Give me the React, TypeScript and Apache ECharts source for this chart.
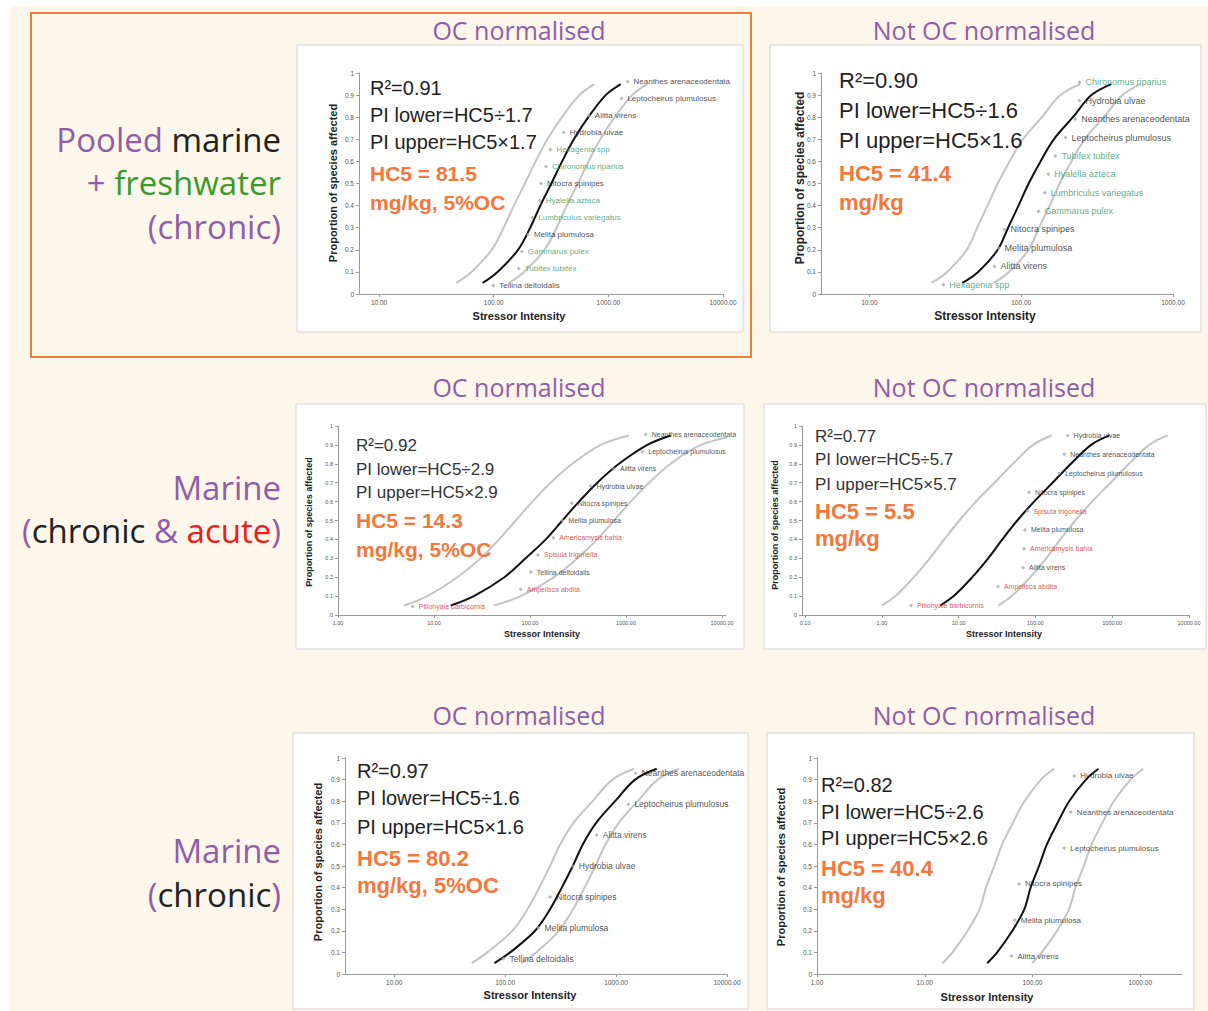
import React, { useEffect, useRef } from "react";
import * as echarts from "echarts";

// ---------- DATA ----------
// cumulative probability levels at which the fitted curves were read
const P_LEVELS = [0.05, 0.1, 0.2, 0.3, 0.4, 0.5, 0.6, 0.7, 0.8, 0.9, 0.95];

// Panel 1: Pooled marine + freshwater (chronic), OC normalised
const P1_FIT = [80, 108, 163, 208, 255, 318, 395, 500, 668, 948, 1282];
const P1_LOWER = [47, 64, 96, 122, 150, 187, 232, 294, 393, 558, 754];
const P1_UPPER = [136, 184, 277, 354, 434, 541, 672, 850, 1136, 1612, 2179];
const P1_SPECIES = ["Neanthes arenaceodentata", "Leptocheirus plumulosus", "Alitta virens", "Hydrobia ulvae", "Hexagenia spp", "Chironomus riparius", "Nitocra spinipes", "Hyalella azteca", "Lumbriculus variegatus", "Melita plumulosa", "Gammarus pulex", "Tubifex tubifex", "Tellina deltoidalis"];
const P1_SP_X = [1469, 1300, 676, 408, 312, 286, 258, 252, 217, 199, 176, 165, 99];
const P1_SP_Y = [0.962, 0.885, 0.808, 0.731, 0.654, 0.577, 0.5, 0.423, 0.346, 0.269, 0.192, 0.115, 0.038];
const P1_SP_TYPE = ["m", "m", "m", "m", "f", "f", "m", "f", "f", "m", "f", "f", "m"];
const P1_X_TICKS = [10, 100, 1000, 10000];

// Panel 2: Pooled marine + freshwater (chronic), not OC normalised
const P2_FIT = [41, 52, 70, 82, 96, 112, 134, 164, 219, 290, 392];
const P2_LOWER = [25.6, 32.5, 43.8, 51.3, 60, 70, 83.8, 102.5, 137, 181, 245];
const P2_UPPER = [65.6, 83.2, 112, 131, 154, 179, 214, 262, 350, 464, 610];
const P2_SPECIES = ["Chironomus riparius", "Hydrobia ulvae", "Neanthes arenaceodentata", "Leptocheirus plumulosus", "Tubifex tubifex", "Hyalella azteca", "Lumbriculus variegatus", "Gammarus pulex", "Nitocra spinipes", "Melita plumulosa", "Alitta virens", "Hexagenia spp"];
const P2_SP_X = [242, 242, 227, 196, 168, 151, 143, 130, 77.6, 71, 66.7, 30.7];
const P2_SP_Y = [0.958, 0.875, 0.792, 0.708, 0.625, 0.542, 0.458, 0.375, 0.292, 0.208, 0.125, 0.042];
const P2_SP_TYPE = ["f", "m", "m", "m", "f", "f", "f", "f", "m", "m", "m", "f"];
const P2_X_TICKS = [10, 100, 1000];

// Panel 3: Marine (chronic & acute), OC normalised
const P3_FIT = [14.9, 26, 54, 90, 146, 217, 324, 502, 845, 1667, 2917];
const P3_LOWER = [4.87, 8.5, 17.5, 30.6, 47.5, 71, 106, 164, 276, 545, 1074];
const P3_UPPER = [42, 80, 178, 311, 502, 750, 1119, 1738, 2917, 6000, 14454];
const P3_SPECIES = ["Neanthes arenaceodentata", "Leptocheirus plumulosus", "Alitta virens", "Hydrobia ulvae", "Nitocra spinipes", "Melita plumulosa", "Americamysis bahia", "Spisula trigonella", "Tellina deltoidalis", "Ampelisca abdita", "Ptilohyale barbicornis"];
const P3_SP_X = [1603, 1479, 750, 428, 272, 217, 175, 121, 102, 80, 6.0];
const P3_SP_Y = [0.955, 0.864, 0.773, 0.682, 0.591, 0.5, 0.409, 0.318, 0.227, 0.136, 0.045];
const P3_SP_TYPE = ["m", "m", "m", "m", "m", "m", "a", "a", "m", "a", "a"];
const P3_X_TICKS = [1, 10, 100, 1000, 10000];

// Panel 4: Marine (chronic & acute), not OC normalised
const P4_FIT = [5.75, 8.6, 15, 24.2, 37, 58, 96, 167, 290, 531, 923];
const P4_LOWER = [1.0, 1.5, 2.6, 4.2, 6.5, 10.2, 16.8, 29.3, 50.9, 93, 162];
const P4_UPPER = [32.8, 49, 85.5, 138, 211, 331, 547, 952, 1653, 3027, 5261];
const P4_SPECIES = ["Hydrobia ulvae", "Neanthes arenaceodentata", "Leptocheirus plumulosus", "Nitocra spinipes", "Spisula trigonella", "Melita plumulosa", "Americamysis bahia", "Alitta virens", "Ampelisca abdita", "Ptilohyale barbicornis"];
const P4_SP_X = [262, 237, 204, 82.6, 78.5, 73, 71, 69, 32.4, 2.4];
const P4_SP_Y = [0.95, 0.85, 0.75, 0.65, 0.55, 0.45, 0.35, 0.25, 0.15, 0.05];
const P4_SP_TYPE = ["m", "m", "m", "m", "a", "m", "a", "m", "a", "a"];
const P4_X_TICKS = [0.1, 1, 10, 100, 1000, 10000];

// Panel 5: Marine (chronic), OC normalised
const P5_FIT = [80, 111, 186, 254, 324, 407, 501, 661, 980, 1483, 2323];
const P5_LOWER = [50, 69, 116, 159, 203, 254, 313, 413, 613, 927, 1452];
const P5_UPPER = [140, 190, 305, 410, 520, 651, 802, 1058, 1568, 2373, 3717];
const P5_SPECIES = ["Neanthes arenaceodentata", "Leptocheirus plumulosus", "Alitta virens", "Hydrobia ulvae", "Nitocra spinipes", "Melita plumulosa", "Tellina deltoidalis"];
const P5_SP_X = [1503, 1291, 670, 407, 254, 200, 96.6];
const P5_SP_Y = [0.929, 0.786, 0.643, 0.5, 0.357, 0.214, 0.071];
const P5_SP_TYPE = ["m", "m", "m", "m", "m", "m", "m"];
const P5_X_TICKS = [10, 100, 1000, 10000];

// Panel 6: Marine (chronic), not OC normalised
const P6_FIT = [38, 47, 65, 84, 96, 115, 136, 171, 219, 313, 410];
const P6_LOWER = [14.6, 18.1, 25, 32.3, 37, 44.2, 52.3, 65.8, 84.2, 120, 158];
const P6_UPPER = [99, 122, 169, 218, 250, 299, 354, 445, 569, 814, 1066];
const P6_SPECIES = ["Hydrobia ulvae", "Neanthes arenaceodentata", "Leptocheirus plumulosus", "Nitocra spinipes", "Melita plumulosa", "Alitta virens"];
const P6_SP_X = [244, 227, 197, 75, 68.5, 63.8];
const P6_SP_Y = [0.917, 0.75, 0.583, 0.417, 0.25, 0.083];
const P6_SP_TYPE = ["m", "m", "m", "m", "m", "m"];
const P6_X_TICKS = [1, 10, 100, 1000];

// Annotation texts
const R2 = ["0.91", "0.90", "0.92", "0.77", "0.97", "0.82"];
const PI = ["1.7", "1.6", "2.9", "5.7", "1.6", "2.6"];
const HC5 = ["81.5", "41.4", "14.3", "5.5", "80.2", "40.4"];
const UNITS = ["mg/kg, 5%OC", "mg/kg", "mg/kg, 5%OC", "mg/kg", "mg/kg, 5%OC", "mg/kg"];

// ---------- STYLE / LAYOUT ----------
const PURPLE = "#8f5ea8";
const ORANGE = "#f4773b";
const TYPE_COLOR: Record<string, string> = { m: "#222222", f: "#2e9a66", a: "#d42a2a" };
const SANS = "'Liberation Sans', Arial, sans-serif";
const TITLE_FONT = "'Open Sans', 'Noto Sans', sans-serif";

const PANELS = [
  { grid: { left: 359, top: 73, width: 364, height: 221 }, xMin: 6.68, xMax: 10000, ticks: P1_X_TICKS, fit: P1_FIT, lower: P1_LOWER, upper: P1_UPPER, names: P1_SPECIES, sx: P1_SP_X, sy: P1_SP_Y, st: P1_SP_TYPE, tickFont: 6.5, spFont: 8,
    box: [297, 45, 446, 287], ann: { x: 370, ys: [88, 115, 142, 173, 202], f: 20, hf: 21 }, yTitle: [333, 183, 11], xTitle: [519, 316, 11] },
  { grid: { left: 821, top: 73, width: 352, height: 221 }, xMin: 4.8, xMax: 1000, ticks: P2_X_TICKS, fit: P2_FIT, lower: P2_LOWER, upper: P2_UPPER, names: P2_SPECIES, sx: P2_SP_X, sy: P2_SP_Y, st: P2_SP_TYPE, tickFont: 6.5, spFont: 9,
    box: [770, 45, 431, 287], ann: { x: 839, ys: [80, 110, 140, 173, 202], f: 22, hf: 22 }, yTitle: [800, 178, 12], xTitle: [985, 316, 12] },
  { grid: { left: 338, top: 426, width: 388, height: 189 }, xMin: 1, xMax: 11000, ticks: P3_X_TICKS, fit: P3_FIT, lower: P3_LOWER, upper: P3_UPPER, names: P3_SPECIES, sx: P3_SP_X, sy: P3_SP_Y, st: P3_SP_TYPE, tickFont: 5.5, spFont: 7,
    box: [296, 404, 448, 245], ann: { x: 356, ys: [445, 469, 492, 520, 549], f: 17, hf: 21 }, yTitle: [309, 522, 9], xTitle: [542, 634, 9] },
  { grid: { left: 802, top: 426, width: 387, height: 189 }, xMin: 0.091, xMax: 10000, ticks: P4_X_TICKS, fit: P4_FIT, lower: P4_LOWER, upper: P4_UPPER, names: P4_SPECIES, sx: P4_SP_X, sy: P4_SP_Y, st: P4_SP_TYPE, tickFont: 5.5, spFont: 7,
    box: [764, 404, 442, 245], ann: { x: 815, ys: [436, 459, 484, 511, 538], f: 17, hf: 22 }, yTitle: [775, 525, 9], xTitle: [1004, 634, 9] },
  { grid: { left: 345, top: 758, width: 382, height: 216 }, xMin: 3.6, xMax: 10000, ticks: P5_X_TICKS, fit: P5_FIT, lower: P5_LOWER, upper: P5_UPPER, names: P5_SPECIES, sx: P5_SP_X, sy: P5_SP_Y, st: P5_SP_TYPE, tickFont: 6.5, spFont: 8.5,
    box: [293, 733, 455, 276], ann: { x: 357, ys: [771, 798, 827, 858, 885], f: 20, hf: 22 }, yTitle: [318, 862, 11], xTitle: [530, 995, 11] },
  { grid: { left: 817, top: 758, width: 365, height: 216 }, xMin: 1, xMax: 2440, ticks: P6_X_TICKS, fit: P6_FIT, lower: P6_LOWER, upper: P6_UPPER, names: P6_SPECIES, sx: P6_SP_X, sy: P6_SP_Y, st: P6_SP_TYPE, tickFont: 6.5, spFont: 8,
    box: [767, 733, 427, 276], ann: { x: 821, ys: [785, 812, 838, 868, 895], f: 20, hf: 22 }, yTitle: [781, 867, 11], xTitle: [987, 997, 11] },
];

function txt(x: number, y: number, text: string, style: any, extra: any = {}) {
  const align = style.align || "left";
  const valign = style.verticalAlign || "middle";
  return {
    type: "text", x, y, z: 100, ...extra,
    style: { text, fontFamily: SANS, fill: "#222", ...style, align, textAlign: align, verticalAlign: valign, textVerticalAlign: valign },
  };
}

function buildOption() {
  const grids: any[] = [];
  const xAxes: any[] = [];
  const yAxes: any[] = [];
  const series: any[] = [];
  const graphics: any[] = [];

  // background
  graphics.push({ type: "rect", z: -20, shape: { x: 10, y: 6, width: 1198, height: 1005 }, style: { fill: "#fdf6ea" } });
  graphics.push({ type: "rect", z: -15, shape: { x: 31, y: 13, width: 720, height: 344 }, style: { fill: "none", stroke: "#ec7f3a", lineWidth: 2 } });

  // column titles
  const titleRows = [30, 387, 715];
  titleRows.forEach((ty) => {
    graphics.push(txt(519, ty, "OC normalised", { fontFamily: TITLE_FONT, fontSize: 25, fill: PURPLE, align: "center" }));
    graphics.push(txt(984, ty, "Not OC normalised", { fontFamily: TITLE_FONT, fontSize: 25, fill: PURPLE, align: "center" }));
  });

  // row labels
  const LS = 33;
  const rich = {
    p: { fill: PURPLE, color: PURPLE, fontFamily: TITLE_FONT, fontSize: LS },
    k: { fill: "#222", color: "#222", fontFamily: TITLE_FONT, fontSize: LS },
    g: { fill: "#3a9a2a", color: "#3a9a2a", fontFamily: TITLE_FONT, fontSize: LS },
    r: { fill: "#ee1c1c", color: "#ee1c1c", fontFamily: TITLE_FONT, fontSize: LS },
  };
  const rowLabel = (y: number, t: string) =>
    graphics.push(txt(281, y, t, { fontFamily: TITLE_FONT, fontSize: LS, align: "right", rich }));
  rowLabel(139, "{p|Pooled} {k|marine}");
  rowLabel(182, "{p|+} {g|freshwater}");
  rowLabel(226, "{p|(chronic)}");
  rowLabel(487, "{p|Marine}");
  rowLabel(530, "{p|(}{k|chronic} {p|&} {r|acute}{p|)}");
  rowLabel(850, "{p|Marine}");
  rowLabel(894, "{p|(}{k|chronic}{p|)}");

  PANELS.forEach((pn, i) => {
    const [bx, by, bw, bh] = pn.box;
    graphics.push({ type: "rect", z: -10, shape: { x: bx, y: by, width: bw, height: bh }, style: { fill: "#ffffff", stroke: "#d4d4d4", lineWidth: 1 } });

    grids.push({ ...pn.grid, containLabel: false });
    xAxes.push({
      gridIndex: i, type: "log", logBase: 10, min: pn.xMin, max: pn.xMax,
      axisLine: { show: true, onZero: false, lineStyle: { color: "#9a9a9a", width: 1 } },
      axisTick: { show: true, customValues: pn.ticks, length: 3, lineStyle: { color: "#9a9a9a" } },
      minorTick: { show: false },
      axisLabel: { show: true, customValues: pn.ticks, formatter: (v: number) => Number(v).toFixed(2), fontSize: pn.tickFont, color: "#555", fontFamily: SANS, margin: 5 },
      splitLine: { show: false },
      minorSplitLine: { show: false },
    });
    yAxes.push({
      gridIndex: i, type: "value", min: 0, max: 1, interval: 0.1,
      axisLine: { show: true, lineStyle: { color: "#9a9a9a", width: 1 } },
      axisTick: { show: true, length: 3, lineStyle: { color: "#9a9a9a" } },
      axisLabel: { show: true, formatter: (v: number) => String(Number(v.toFixed(1))), fontSize: pn.tickFont, color: "#555", fontFamily: SANS, margin: 5 },
      splitLine: { show: false },
    });

    const line = (vals: number[], color: string, z: number) => ({
      type: "line", xAxisIndex: i, yAxisIndex: i, smooth: 0.35, symbol: "none", clip: false, z,
      lineStyle: { color, width: 2 },
      data: vals.map((v, k) => [v, P_LEVELS[k]]),
      silent: true,
    });
    series.push(line(pn.lower, "#c4c4c4", 2));
    series.push(line(pn.upper, "#c4c4c4", 2));
    series.push(line(pn.fit, "#111111", 3));
    series.push({
      type: "scatter", xAxisIndex: i, yAxisIndex: i, symbol: "diamond", symbolSize: 4, z: 4,
      itemStyle: { color: "#a8a8a8" },
      label: { show: true, position: "right", distance: 4, formatter: "{b}", fontSize: pn.spFont, fontFamily: SANS },
      data: pn.names.map((nm, k) => ({ name: nm, value: [pn.sx[k], pn.sy[k]], label: { color: TYPE_COLOR[pn.st[k]] } })),
    });

    // annotations
    const a = pn.ann;
    const dark = i === 2 || i === 3 ? "#333" : "#222";
    graphics.push(txt(a.x, a.ys[0], `R²=${R2[i]}`, { fontSize: a.f, fill: dark }));
    graphics.push(txt(a.x, a.ys[1], `PI lower=HC5÷${PI[i]}`, { fontSize: a.f, fill: dark }));
    graphics.push(txt(a.x, a.ys[2], `PI upper=HC5×${PI[i]}`, { fontSize: a.f, fill: dark }));
    graphics.push(txt(a.x, a.ys[3], `HC5 = ${HC5[i]}`, { fontSize: a.hf, fontWeight: "bold", fill: ORANGE }));
    graphics.push(txt(a.x, a.ys[4], UNITS[i], { fontSize: a.hf, fontWeight: "bold", fill: ORANGE }));

    // axis titles
    graphics.push(txt(pn.yTitle[0], pn.yTitle[1], "Proportion of species affected", { fontSize: pn.yTitle[2], fontWeight: "bold", align: "center" }, { rotation: Math.PI / 2 }));
    graphics.push(txt(pn.xTitle[0], pn.xTitle[1], "Stressor Intensity", { fontSize: pn.xTitle[2], fontWeight: "bold", align: "center" }));
  });

  return {
    animation: false,
    backgroundColor: "#ffffff",
    grid: grids,
    xAxis: xAxes,
    yAxis: yAxes,
    series,
    graphic: { elements: graphics },
  };
}

export default function App() {
  const ref = useRef<HTMLDivElement>(null);
  useEffect(() => {
    if (!ref.current) return;
    const chart = echarts.init(ref.current, undefined, { renderer: "svg", width: 1208, height: 1011 });
    chart.setOption(buildOption() as any);
    return () => chart.dispose();
  }, []);
  return <div ref={ref} style={{ position: "absolute", left: 0, top: 0, width: 1208, height: 1011 }} />;
}
